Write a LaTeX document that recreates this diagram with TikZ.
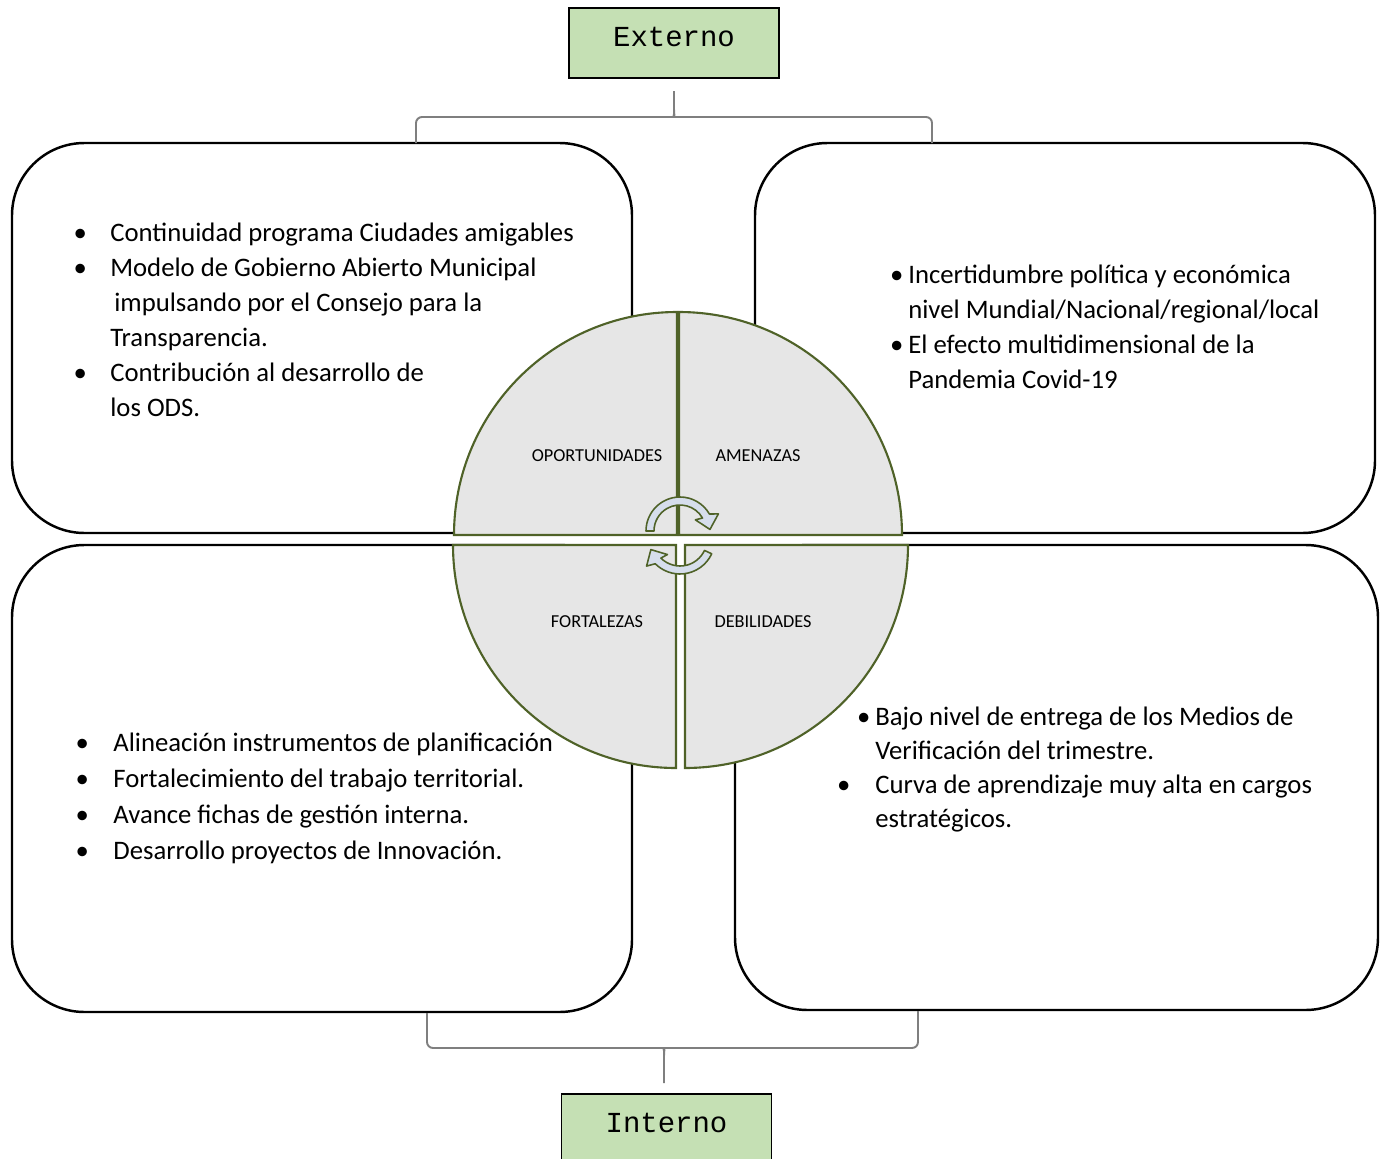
\documentclass[tikz,border=0pt]{standalone}
\usepackage{fontspec}
\setmainfont{Carlito}
\newfontfamily\monofont{Liberation Mono}
\usepackage{tikz}
\usetikzlibrary{positioning}
\definecolor{labelgreen}{RGB}{197,224,180}
\definecolor{olivedark}{RGB}{79,98,40}
\definecolor{quadgray}{RGB}{230,230,230}
\definecolor{cyclefill}{RGB}{214,222,236}
\definecolor{bracegray}{RGB}{127,127,127}
\tikzstyle{swotbox} = [rectangle, rounded corners=1.45cm, draw=black, line width=1.4pt, inner sep=0pt]
\tikzstyle{tag} = [rectangle, minimum width=4.2cm, minimum height=1.4cm, text centered, text depth=0.24cm, draw=black, line width=0.8pt, fill=labelgreen, font=\monofont\fontsize{16.5}{18}\selectfont]
\tikzstyle{quad} = [draw=olivedark, fill=quadgray, line width=1.2pt]
\tikzstyle{quadlabel} = [font=\fontsize{10.4}{12}\selectfont]
\tikzstyle{turnarrow} = [draw=olivedark, fill=cyclefill, line width=0.9pt, line join=round]
\tikzstyle{brace} = [draw=bracegray, line width=1.1pt, rounded corners=0.12cm]
\tikzstyle{bullets} = [inner sep=0pt, anchor=base west, font=\fontsize{15.2}{20}\selectfont]
\newcommand{\swotbul}[1]{\llap{\textbullet\hspace{#1}}}

\begin{document}
\begin{tikzpicture}
\useasboundingbox (0,0) rectangle (27.76,-23.18);

% the four boxes
\node (opbox) [swotbox, minimum width=12.4cm, minimum height=7.8cm] at (6.44,-6.76) {};
\node (ambox) [swotbox, minimum width=12.4cm, minimum height=7.8cm] at (21.30,-6.76) {};
\node (fobox) [swotbox, minimum width=12.4cm, minimum height=9.34cm] at (6.44,-15.57) {};
\node (debox) [swotbox, minimum width=12.86cm, minimum height=9.3cm] at (21.13,-15.55) {};

% lists
\node (optext) [bullets] at (2.20,-4.82) {\begin{tabular}[t]{@{}l@{}}
\swotbul{0.47cm}Continuidad programa Ciudades amigables\\
\swotbul{0.47cm}Modelo de Gobierno Abierto Municipal\\
\hspace{0.08cm}impulsando por el Consejo para la\\
Transparencia.\\
\swotbul{0.47cm}Contribución al desarrollo de\\
los ODS.
\end{tabular}};
\node (amtext) [bullets] at (18.16,-5.66) {\begin{tabular}[t]{@{}l@{}}
\swotbul{0.1cm}Incertidumbre política y económica\\
nivel Mundial/Nacional/regional/local\\
\swotbul{0.1cm}El efecto multidimensional de la\\
Pandemia Covid-19
\end{tabular}};
\node (fotext) [bullets, font=\fontsize{15.2}{20.5}\selectfont] at (2.26,-15.02) {\begin{tabular}[t]{@{}l@{}}
\swotbul{0.49cm}Alineación instrumentos de planificación\\
\swotbul{0.49cm}Fortalecimiento del trabajo territorial.\\
\swotbul{0.49cm}Avance fichas de gestión interna.\\
\swotbul{0.49cm}Desarrollo proyectos de Innovación.
\end{tabular}};
\node (detext) [bullets, font=\fontsize{15.2}{19.4}\selectfont] at (17.50,-14.50) {\begin{tabular}[t]{@{}l@{}}
\swotbul{0.1cm}Bajo nivel de entrega de los Medios de\\
Verificación del trimestre.\\
\swotbul{0.5cm}Curva de aprendizaje muy alta en cargos\\
estratégicos.
\end{tabular}};

% circle in four parts
\draw[quad] (13.54,-10.70) -- ++(-4.46,0) arc (180:90:4.46) -- cycle;
\draw[quad] (13.58,-10.70) -- ++(0,4.46) arc (90:0:4.46) -- cycle;
\draw[quad] (13.52,-10.90) -- ++(-4.46,0) arc (180:270:4.46) -- cycle;
\draw[quad] (13.70,-10.90) -- ++(4.46,0) arc (0:-90:4.46) -- cycle;
\node (oport) [quadlabel] at (11.94,-9.12) {OPORTUNIDADES};
\node (amen) [quadlabel] at (15.16,-9.12) {AMENAZAS};
\node (fort) [quadlabel] at (11.94,-12.44) {FORTALEZAS};
\node (debil) [quadlabel] at (15.26,-12.44) {DEBILIDADES};

% turning arrows
\begin{scope}[shift={(13.60,-10.62)}]
\draw[turnarrow] (180:0.68) arc (180:30:0.68) -- (24:0.84) -- (3:0.6) -- (36:0.38) -- (30:0.52) arc (30:180:0.52) -- cycle;
\end{scope}
\begin{scope}[shift={(13.60,-10.78)}]
\draw[turnarrow] (-25:0.70) arc (-25:-135:0.70) -- (-141:0.86) -- (-160:0.62) -- (-129:0.40) -- (-135:0.54) arc (-135:-25:0.54) -- cycle;
\end{scope}

% top and bottom labels
\node (externo) [tag] at (13.48,-0.86) {Externo};
\node (interno) [tag] at (13.33,-22.58) {Interno};

% braces
\coordinate (topl) at (8.32,-2.86);
\coordinate (topr) at (18.64,-2.86);
\coordinate (toptip) at (13.48,-1.82);
\coordinate (botl) at (8.54,-20.26);
\coordinate (botr) at (18.36,-20.22);
\coordinate (bottip) at (13.28,-21.66);
\draw[brace] (topl) |- (13.36,-2.34) .. controls (13.46,-2.34) and (13.48,-2.30) .. (13.48,-2.16) -- (toptip);
\draw[brace] (topr) |- (13.60,-2.34) .. controls (13.50,-2.34) and (13.48,-2.30) .. (13.48,-2.16);
\draw[brace] (botl) |- (13.16,-20.96) .. controls (13.26,-20.96) and (13.28,-21.00) .. (13.28,-21.14) -- (bottip);
\draw[brace] (botr) |- (13.40,-20.96) .. controls (13.30,-20.96) and (13.28,-21.00) .. (13.28,-21.14);
\end{tikzpicture}
\end{document}
